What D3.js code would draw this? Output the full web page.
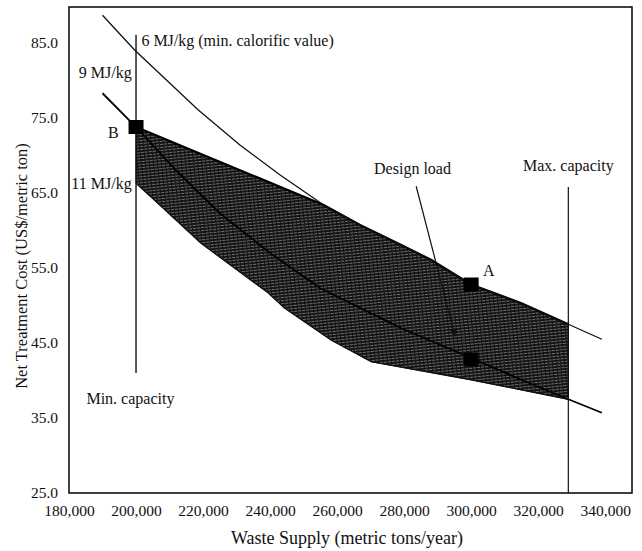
<!DOCTYPE html>
<html>
<head>
<meta charset="utf-8">
<script src="https://cdn.jsdelivr.net/npm/d3@7"></script>
<style>
  html, body { margin: 0; padding: 0; background: #fff; }
  svg text { font-family: "Liberation Serif", "DejaVu Serif", serif; fill: #111; }
</style>
</head>
<body>
<svg id="chart" width="642" height="551"></svg>
<script>
// ---- data (x: metric tons/year, y: US$/metric ton) ----
const xTicks = [180000, 200000, 220000, 240000, 260000, 280000, 300000, 320000, 340000];
const yTicks = [25, 35, 45, 55, 65, 75, 85];

const curve6 = [[190000,88.7],[199500,84.1],[209000,80.1],[218500,76.1],[231000,71.4],[243000,67.4],[256000,63.4],[267000,60.7],[279000,58.1],[288000,56.1],[300000,52.8],[315000,50.3],[329000,47.5],[339000,45.5]];
const curve9 = [[190000,78.3],[200000,73.8],[212000,68.0],[225000,62.3],[240000,57.0],[255000,52.3],[279000,47.0],[300000,43.0],[315000,40.1],[329000,37.5],[339000,35.7]];
const curve11 = [[200000,66.3],[205400,64.1],[219400,58.3],[239400,51.7],[244200,49.7],[258200,45.4],[270200,42.5],[300000,40.1],[329000,37.5]];
const bandTop = [[200000,73.8],[256000,63.4],[267000,60.7],[279000,58.1],[288000,56.1],[300000,52.8],[315000,50.3],[329000,47.5]];
const bandBottom = curve11;

const points = [{name:"B", x:200000, y:73.8}, {name:"A", x:300000, y:52.8}, {name:"", x:300000, y:42.8}];
const minCapacity = {x:200000, y0:41.0, y1:86.1};
const maxCapacity = {x:329000, y0:25, y1:65.8};
const designArrow = [[283600,65.9],[295200,45.9]];

const labels = [
  {text:"6 MJ/kg (min. calorific value)", x:201600, y:84.6, anchor:"start"},
  {text:"9 MJ/kg", x:198700, y:80.4, anchor:"end"},
  {text:"B", x:193200, y:72.3, anchor:"middle"},
  {text:"11 MJ/kg", x:198700, y:65.6, anchor:"end"},
  {text:"Min. capacity", x:185200, y:36.9, anchor:"start"},
  {text:"Design load", x:282500, y:67.6, anchor:"middle"},
  {text:"Max. capacity", x:329000, y:68.0, anchor:"middle"},
  {text:"A", x:305300, y:53.9, anchor:"middle"}
];

// ---- layout ----
const svg = d3.select("#chart");
const mLeft = 69, mRight = 632, mTop = 7, mBottom = 493;
const x = d3.scaleLinear().domain([180000, 348000]).range([mLeft, mRight]);
const y = d3.scaleLinear().domain([25, 89.8]).range([mBottom, mTop]);

const defs = svg.append("defs");
const pat = defs.append("pattern").attr("id","hatch").attr("patternUnits","userSpaceOnUse")
  .attr("width",4).attr("height",3).attr("patternTransform","rotate(-6)");
pat.append("rect").attr("width",4).attr("height",3).attr("fill","#151515");
pat.append("line").attr("x1",0).attr("x2",4).attr("y1",1.5).attr("y2",1.5)
  .attr("stroke","#959595").attr("stroke-width",0.7).attr("stroke-dasharray","3,1");
defs.append("marker").attr("id","arrow").attr("viewBox","0 0 10 10").attr("refX",9).attr("refY",5)
  .attr("markerWidth",7).attr("markerHeight",9).attr("orient","auto")
  .append("path").attr("d","M0,1 L10,5 L0,9 Z").attr("fill","#111");

const line = d3.line().x(d => x(d[0])).y(d => y(d[1]));

// shaded band
const bandPoly = bandTop.concat(bandBottom.slice().reverse());
svg.append("path").attr("d", line(bandPoly) + "Z").attr("fill","url(#hatch)").attr("stroke","#111").attr("stroke-width",1);

// band top edge thicker
svg.append("path").attr("d", line(bandTop)).attr("fill","none").attr("stroke","#000").attr("stroke-width",2.2);

// curves
svg.append("path").attr("d", line(curve6)).attr("fill","none").attr("stroke","#111").attr("stroke-width",1.3);
svg.append("path").attr("d", line(curve9)).attr("fill","none").attr("stroke","#000").attr("stroke-width",1.8);
svg.append("path").attr("d", line(curve11)).attr("fill","none").attr("stroke","#111").attr("stroke-width",1.3);

// capacity lines
svg.append("line").attr("x1",x(minCapacity.x)).attr("x2",x(minCapacity.x))
  .attr("y1",y(minCapacity.y0)).attr("y2",y(minCapacity.y1)).attr("stroke","#111").attr("stroke-width",1.4);
svg.append("line").attr("x1",x(maxCapacity.x)).attr("x2",x(maxCapacity.x))
  .attr("y1",y(maxCapacity.y0)).attr("y2",y(maxCapacity.y1)).attr("stroke","#111").attr("stroke-width",1.2);

// design load arrow
svg.append("path").attr("d", line(designArrow)).attr("stroke","#111").attr("stroke-width",1.2)
  .attr("fill","none").attr("marker-end","url(#arrow)");

// markers
svg.selectAll("rect.pt").data(points).enter().append("rect").attr("class","pt")
  .attr("x", d => x(d.x) - 7.5).attr("y", d => y(d.y) - 7).attr("width",15).attr("height",14).attr("fill","#000");

// labels
svg.selectAll("text.lbl").data(labels).enter().append("text").attr("class","lbl")
  .attr("x", d => x(d.x)).attr("y", d => y(d.y)).attr("text-anchor", d => d.anchor)
  .style("font-size","16px").text(d => d.text);

// frame
svg.append("rect").attr("x",mLeft).attr("y",mTop).attr("width",mRight-mLeft).attr("height",mBottom-mTop)
  .attr("fill","none").attr("stroke","#111").attr("stroke-width",1.6);

// axes
const xAxis = svg.append("g").attr("transform",`translate(0,${mBottom})`)
  .call(d3.axisBottom(x).tickValues(xTicks).tickSize(0).tickPadding(12).tickFormat(d3.format(",")));
const yAxis = svg.append("g").attr("transform",`translate(${mLeft},0)`)
  .call(d3.axisLeft(y).tickValues(yTicks).tickSize(0).tickPadding(11).tickFormat(d3.format(".1f")));
[xAxis, yAxis].forEach(g => {
  g.select(".domain").remove();
  g.selectAll("text").style("font-size","15.5px").style("font-family","Liberation Serif, serif").attr("fill","#111");
});

// axis titles
svg.append("text").attr("x", 347).attr("y", 544).attr("text-anchor","middle")
  .style("font-size","18px").text("Waste Supply (metric tons/year)");
svg.append("text").attr("transform","translate(27,266) rotate(-90)").attr("text-anchor","middle")
  .style("font-size","16.5px").text("Net Treatment Cost (US$/metric ton)");
</script>
</body>
</html>
